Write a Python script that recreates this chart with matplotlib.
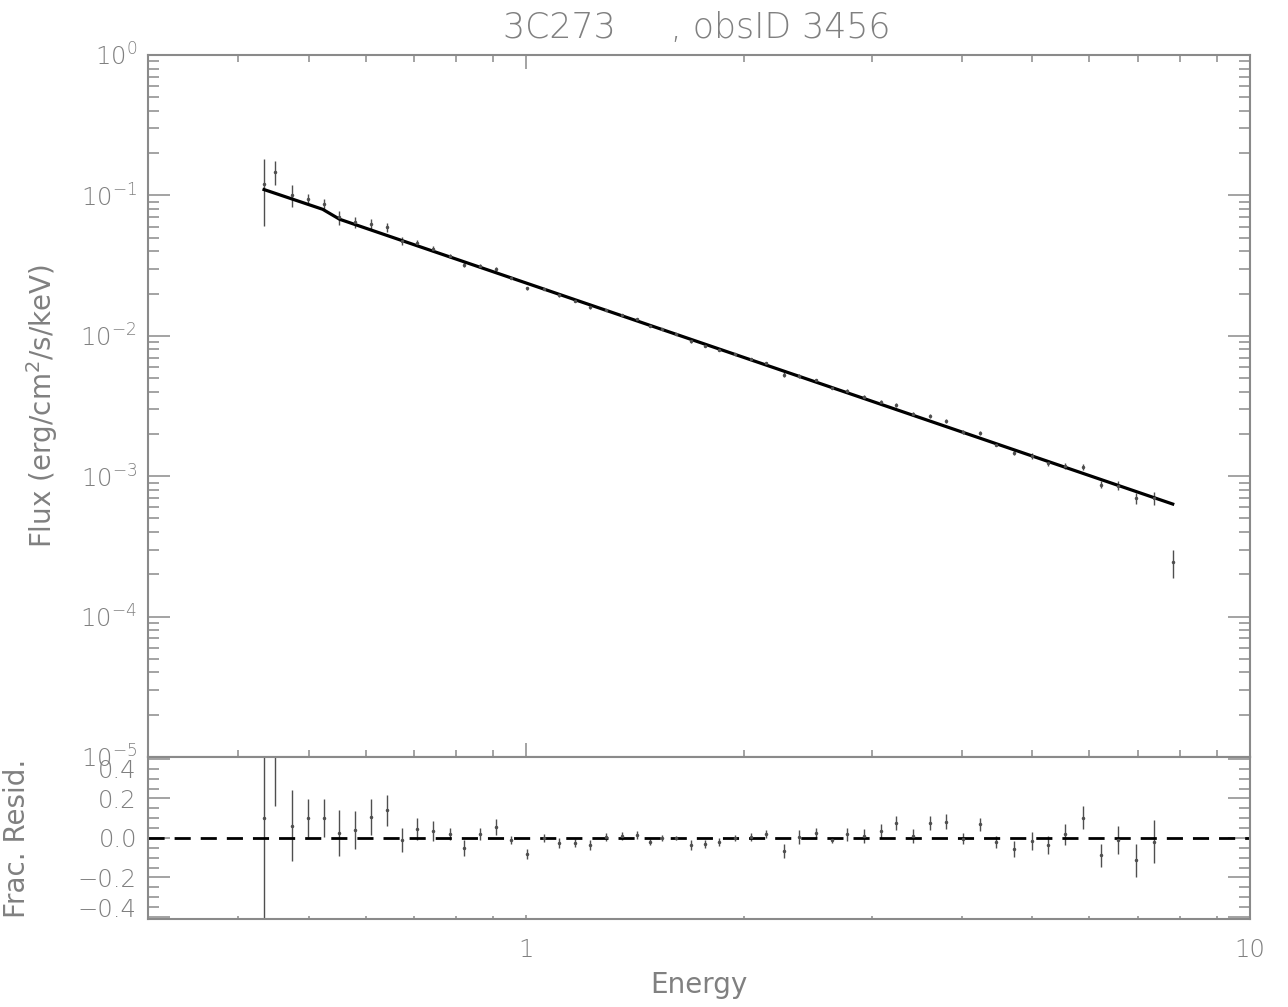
import matplotlib
matplotlib.use("Agg")
import matplotlib.pyplot as plt
from matplotlib.ticker import (FixedLocator, LogLocator, MultipleLocator,
                               NullFormatter, FuncFormatter, LogFormatterSciNotation)


# ---- spectrum, fitted model and fractional residuals ----
energy = [
	0.434, 0.450, 0.474, 0.499, 0.525, 0.551, 0.580, 0.610, 0.641, 0.673,
	0.707, 0.744, 0.785, 0.821, 0.864, 0.908, 0.952, 1.002, 1.057, 1.108,
	1.166, 1.226, 1.289, 1.357, 1.420, 1.482, 1.542, 1.609, 1.687, 1.766,
	1.846, 1.943, 2.043, 2.143, 2.268, 2.383, 2.514, 2.642, 2.775, 2.927,
	3.086, 3.245, 3.422, 3.608, 3.804, 4.012, 4.231, 4.463, 4.716, 4.990,
	5.264, 5.549, 5.884, 6.223, 6.578, 6.958, 7.370, 7.823,
]

flux = [
	0.1209, 0.1473, 0.1004, 0.0948, 0.0866, 0.0696, 0.0646, 0.0629, 0.0592, 0.0473,
	0.0458, 0.0414, 0.0372, 0.0320, 0.0314, 0.0298, 0.0257, 0.0218, 0.0216, 0.0194,
	0.0177, 0.0160, 0.0153, 0.0141, 0.0131, 0.0117, 0.0111, 0.0103, 0.00916, 0.00849,
	0.00793, 0.00740, 0.00681, 0.00636, 0.00528, 0.00520, 0.00482, 0.00428, 0.00404, 0.00364,
	0.00340, 0.00323, 0.00276, 0.00268, 0.00246, 0.00206, 0.00202, 0.00168, 0.00147, 0.00139,
	0.00124, 0.00119, 0.00116, 0.000872, 0.000858, 0.000697, 0.000697, 0.000244,
]

flux_err = [
	0.060, 0.028, 0.0172, 0.0082, 0.0075, 0.0080, 0.0060, 0.0051, 0.0040, 0.0029,
	0.0024, 0.0020, 0.0011, 0.00135, 0.00092, 0.00113, 0.00052, 0.00059, 0.00047, 0.00050,
	0.00036, 0.00042, 0.00030, 0.00028, 0.00026, 0.00018, 0.00017, 0.00012, 0.00024, 0.00018,
	0.00016, 0.00011, 0.00012, 0.00012, 0.00021, 0.00018, 0.00012, 0.000065, 0.00013, 0.00012,
	0.00011, 0.00011, 0.00009, 0.00009, 0.000086, 0.000056, 0.000062, 0.000053, 0.000065, 0.000063,
	0.000059, 0.000061, 0.000061, 0.000055, 0.000062, 0.000065, 0.000077, 0.000055,
]

resid = [
	0.10, 0.43, 0.063, 0.10, 0.10, 0.026, 0.042, 0.107, 0.14, -0.01,
	0.046, 0.035, 0.02, -0.05, 0.02, 0.055, -0.01, -0.08, 0.0, -0.025,
	-0.025, -0.037, 0.005, 0.012, 0.017, -0.022, 0.0, 0.0, -0.035, -0.03,
	-0.02, 0.0, 0.005, 0.02, -0.065, 0.005, 0.025, -0.008, 0.02, 0.01,
	0.035, 0.076, 0.01, 0.076, 0.082, -0.003, 0.07, -0.02, -0.055, -0.017,
	-0.035, 0.018, 0.103, -0.088, -0.01, -0.113, -0.018, -0.618,
]

resid_err = [
	0.55, 0.27, 0.182, 0.095, 0.095, 0.118, 0.096, 0.09, 0.077, 0.06,
	0.055, 0.05, 0.03, 0.04, 0.03, 0.04, 0.02, 0.025, 0.022, 0.025,
	0.02, 0.025, 0.02, 0.02, 0.02, 0.015, 0.015, 0.012, 0.025, 0.02,
	0.02, 0.015, 0.018, 0.02, 0.037, 0.035, 0.025, 0.015, 0.033, 0.033,
	0.035, 0.036, 0.033, 0.036, 0.038, 0.027, 0.033, 0.031, 0.042, 0.045,
	0.046, 0.052, 0.058, 0.058, 0.071, 0.083, 0.108, 0.086,
]

model_energy = [0.434, 0.523, 0.552, 7.82]
model_flux = [0.110, 0.0796, 0.0676, 6.33e-4]

title_text = "3C273     , obsID 3456"


text_color = "#808080"
frame_color = "#8a8a8a"
point_color = "#4f4f4f"
tick_fontsize = 17.5
label_fontsize = 20
title_fontsize = 25

plt.rcParams["font.family"] = ["DejaVu Sans"]
plt.rcParams["font.weight"] = "light"
plt.rcParams["mathtext.default"] = "regular"


def style_frame(ax):
	for side in ["left", "right", "top", "bottom"]:
		ax.spines[side].set_color(frame_color)
		ax.spines[side].set_linewidth(1.5)
	ax.tick_params(which="both", direction="in", color=frame_color,
		labelcolor=text_color, labelsize=tick_fontsize, width=1.1)


fig = plt.figure(figsize=(12.88, 10.07), dpi=100)
ax_top = fig.add_axes([0.1149, 0.2483, 0.8556, 0.6971])
ax_res = fig.add_axes([0.1149, 0.0874, 0.8556, 0.1609])

# upper panel: unfolded spectrum with the model
ax_top.set_xscale("log")
ax_top.set_yscale("log")
ax_top.errorbar(energy, flux, yerr=flux_err, fmt="o", ms=1.5,
	color=point_color, ecolor=point_color, elinewidth=1.0, capsize=0)
ax_top.plot(model_energy, model_flux, color="black", lw=2.3)
ax_top.set_xlim(0.3, 10)
ax_top.set_ylim(1e-5, 1)

style_frame(ax_top)
ax_top.xaxis.set_major_locator(FixedLocator([1, 10]))
ax_top.xaxis.set_minor_locator(LogLocator(base=10, subs=range(2, 10)))
ax_top.yaxis.set_major_locator(LogLocator(base=10, numticks=10))
ax_top.yaxis.set_minor_locator(LogLocator(base=10, subs=range(2, 10), numticks=20))
ax_top.yaxis.set_major_formatter(LogFormatterSciNotation())
ax_top.yaxis.set_minor_formatter(NullFormatter())
ax_top.tick_params(axis="x", which="both", top=True, bottom=True, labelbottom=False)
ax_top.tick_params(axis="y", which="both", left=True, right=True)
ax_top.tick_params(axis="x", which="major", length=10)
ax_top.tick_params(axis="x", which="minor", length=5)
ax_top.tick_params(axis="y", which="major", length=15.8, pad=8)
ax_top.tick_params(axis="y", which="minor", length=7.9)
ax_top.set_ylabel("Flux (erg/cm$^2$/s/keV)", fontsize=label_fontsize, color=text_color)
ax_top.yaxis.set_label_coords(-0.096, 0.5)
ax_top.yaxis.label.set_va("center")

# lower panel: fractional residuals
ax_res.set_xscale("log")
ax_res.errorbar(energy, resid, yerr=resid_err, fmt="o", ms=1.5,
	color=point_color, ecolor=point_color, elinewidth=1.0, capsize=0)
ax_res.axhline(0.0, color="black", lw=2.0, ls=(0, (5.8, 3.6)))
ax_res.set_xlim(0.3, 10)
ax_res.set_ylim(-0.41, 0.41)

style_frame(ax_res)
ax_res.xaxis.set_major_locator(FixedLocator([1, 10]))
ax_res.xaxis.set_minor_locator(LogLocator(base=10, subs=range(2, 10)))
ax_res.xaxis.set_major_formatter(FuncFormatter(lambda v, p: f"{v:g}"))
ax_res.xaxis.set_minor_formatter(NullFormatter())
ax_res.yaxis.set_major_locator(FixedLocator([-0.4, -0.2, 0.0, 0.2, 0.4]))
ax_res.yaxis.set_minor_locator(MultipleLocator(0.05))
ax_res.yaxis.set_major_formatter(FuncFormatter(lambda v, p: f"{v:.1f}".replace("-", "\u2212")))
ax_res.tick_params(axis="x", which="both", top=False, bottom=True, pad=14)
ax_res.tick_params(axis="y", which="both", left=True, right=True)
ax_res.tick_params(axis="x", which="major", length=3)
ax_res.tick_params(axis="x", which="minor", length=2)
ax_res.tick_params(axis="y", which="major", length=15.8, pad=8)
ax_res.tick_params(axis="y", which="minor", length=7.9)

# keep the end labels inside the panel height
res_ticks = ax_res.yaxis.get_major_ticks()
res_ticks[0].label1.set_va("baseline")
res_ticks[-1].label1.set_va("top")

ax_res.set_ylabel("Frac. Resid.", fontsize=label_fontsize, color=text_color)
ax_res.yaxis.set_label_coords(-0.119, 0.5)
ax_res.yaxis.label.set_va("center")
ax_res.set_xlabel("Energy", fontsize=label_fontsize, color=text_color)
ax_res.xaxis.set_label_coords(0.5, -0.407)
ax_res.xaxis.label.set_va("center")

fig.text(0.541, 0.972, title_text, ha="center", va="center",
	fontsize=title_fontsize, color=text_color)

fig.savefig("out.png", dpi=100)
plt.close(fig)
